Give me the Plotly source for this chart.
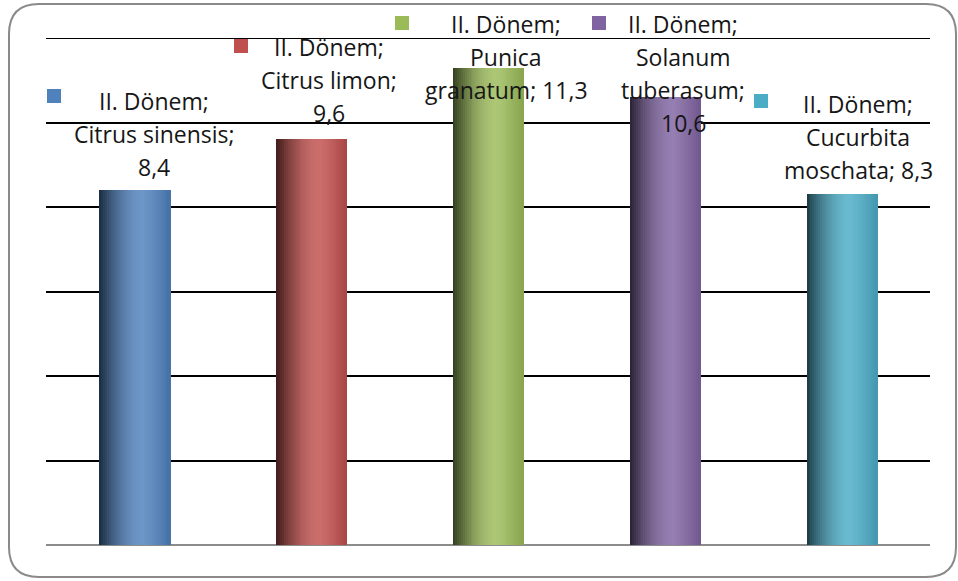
import textwrap
import plotly.graph_objects as go

# ---- data ----
series_name = "II. Dönem"
species = ["Citrus sinensis", "Citrus limon", "Punica granatum",
           "Solanum tuberasum", "Cucurbita moschata"]
values = [8.4, 9.6, 11.3, 10.6, 8.3]
y_ticks = [0, 2, 4, 6, 8, 10, 12]

# ---- styling ----
base_colors = ["#4f81bd", "#c0504d", "#9bbb59", "#8064a2", "#4bacc6"]
FONT = "Open Sans"
FONT_SIZE = 23
TEXT_COLOR = "#161616"

# plot area in page pixels
W_PX, H_PX = 958, 581
L, R, T, B = 46, 930, 38, 545


def px_x(px):
    return (px - L) / (R - L)


def px_y(py):
    return (B - py) / (B - T)


def hex_rgb(h):
    h = h.lstrip("#")
    return [int(h[i:i + 2], 16) for i in (0, 2, 4)]


def mix(c1, c2, t):
    return [c1[i] + (c2[i] - c1[i]) * t for i in range(3)]


def shade(color, t):
    """Cylinder-like shading across a bar: dark left, bright at ~62%, slightly dark right."""
    c = hex_rgb(color)
    dark = [v * 0.33 for v in c]
    light = mix(c, [255, 255, 255], 0.17)
    right = [v * 0.88 for v in c]
    p = 0.62
    if t <= p:
        u = t / p
        u = 1 - (1 - u) ** 1.8
        out = mix(dark, light, u)
    else:
        u = (t - p) / (1 - p)
        out = mix(light, right, u ** 1.2)
    return "rgb(%d,%d,%d)" % tuple(int(round(max(0, min(255, v)))) for v in out)


fig = go.Figure()

x_pos = list(range(len(species)))
bar_w = 0.396
n_slices = 36
sw = bar_w / n_slices
for k in range(n_slices):
    t = (k + 0.5) / n_slices
    fig.add_trace(go.Bar(
        x=x_pos, y=values,
        width=sw * 1.6,
        offset=-bar_w / 2 + k * sw,
        marker=dict(color=[shade(c, t) for c in base_colors], line=dict(width=0)),
        hoverinfo="skip", showlegend=False,
    ))

# ---- data labels with legend keys ----
label_wrap = [16, 13, 14, 10, 13]
label_center_x = [154, 329, 506, 683, 858]
label_first_y = [101, 47, 24, 24, 104]
key_center = [(54, 96), (241, 46), (402, 23), (599, 23), (761, 101)]
LINE_STEP = 33
KEY = 14

annotations = []
shapes = []
for i, (name, v) in enumerate(zip(species, values)):
    full = "%s; %s; %s" % (series_name, name, ("%.1f" % v).replace(".", ","))
    lines = textwrap.wrap(full, width=label_wrap[i], break_long_words=False,
                          break_on_hyphens=False)
    for j, ln in enumerate(lines):
        annotations.append(dict(
            x=px_x(label_center_x[i]), y=px_y(label_first_y[i] + j * LINE_STEP),
            xref="paper", yref="paper", text=ln, showarrow=False,
            xanchor="center", yanchor="middle",
            font=dict(family=FONT, size=FONT_SIZE, color=TEXT_COLOR),
        ))
    kx, ky = key_center[i]
    shapes.append(dict(
        type="rect", xref="paper", yref="paper",
        x0=px_x(kx - KEY / 2), x1=px_x(kx + KEY / 2),
        y0=px_y(ky + KEY / 2), y1=px_y(ky - KEY / 2),
        fillcolor=base_colors[i], line=dict(width=0),
    ))

# top gridline sits on the plot edge, so draw it explicitly behind the bars
shapes.append(dict(type="line", xref="paper", yref="y", x0=0, x1=1,
                   y0=y_ticks[-1], y1=y_ticks[-1], layer="below",
                   line=dict(color="#000000", width=2)))

# ---- rounded outer frame ----
fx0, fx1, fy0, fy1, rad = 9, 956, 4, 577, 30


def P(px, py):
    return "%.5f,%.5f" % (px_x(px), px_y(py))


frame_path = (
    "M " + P(fx0 + rad, fy0) + " L " + P(fx1 - rad, fy0)
    + " Q " + P(fx1, fy0) + " " + P(fx1, fy0 + rad)
    + " L " + P(fx1, fy1 - rad)
    + " Q " + P(fx1, fy1) + " " + P(fx1 - rad, fy1)
    + " L " + P(fx0 + rad, fy1)
    + " Q " + P(fx0, fy1) + " " + P(fx0, fy1 - rad)
    + " L " + P(fx0, fy0 + rad)
    + " Q " + P(fx0, fy0) + " " + P(fx0 + rad, fy0) + " Z"
)
shapes.append(dict(type="path", xref="paper", yref="paper", path=frame_path,
                   line=dict(color="#8a8a8a", width=2), fillcolor="rgba(0,0,0,0)"))

fig.update_layout(
    width=W_PX, height=H_PX,
    margin=dict(l=L, r=W_PX - R, t=T, b=H_PX - B, autoexpand=False),
    paper_bgcolor="white", plot_bgcolor="white",
    barmode="overlay", bargap=0,
    showlegend=False,
    annotations=annotations,
    shapes=shapes,
    xaxis=dict(range=[-0.5, len(species) - 0.5], showgrid=False, zeroline=False,
               showticklabels=False, ticks="", showline=False, fixedrange=True),
    yaxis=dict(range=[y_ticks[0], y_ticks[-1]], tickvals=y_ticks, showticklabels=False,
               ticks="", showgrid=True, gridcolor="#000000", gridwidth=2,
               zeroline=True, zerolinecolor="#8c8c8c", zerolinewidth=2,
               showline=False, fixedrange=True),
)

fig.write_html("out.html", config={"displayModeBar": False})
